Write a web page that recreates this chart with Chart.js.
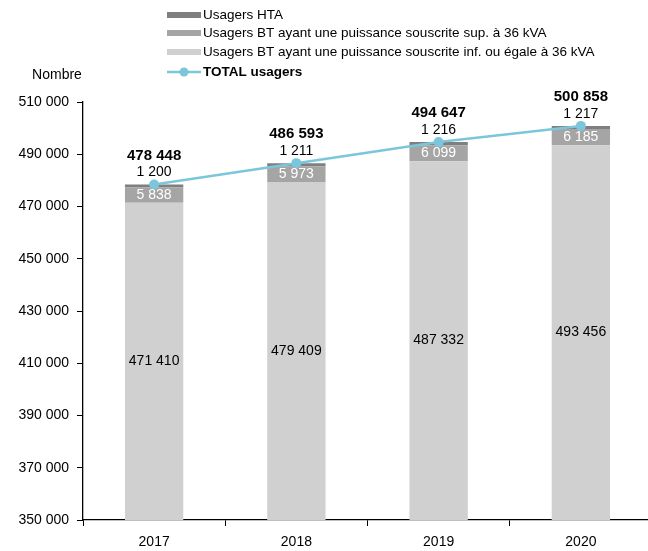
<!DOCTYPE html>
<html>
<head>
<meta charset="utf-8">
<script src="https://cdn.jsdelivr.net/npm/chart.js@4"></script>
<style>
  html, body { margin: 0; padding: 0; background: #fff; overflow: hidden; }
  #wrap { width: 660px; height: 551px; }
</style>
</head>
<body>
<div id="wrap"><canvas id="chart" width="660" height="551"></canvas></div>
<script>
// Data
const years = ["2017", "2018", "2019", "2020"];
const btInf = [471410, 479409, 487332, 493456];
const btSup = [5838, 5973, 6099, 6185];
const hta = [1200, 1211, 1216, 1217];
const totals = [478448, 486593, 494647, 500858];
const yTicks = [350000, 370000, 390000, 410000, 430000, 450000, 470000, 490000, 510000];

const FONT = "'Liberation Sans', Arial, sans-serif";
const fmt = (v) => String(v).replace(/\B(?=(\d{3})+(?!\d))/g, " ");

// Draw value labels, legend and axis title
const extras = {
  id: "extras",
  afterDatasetsDraw(chart) {
    const ctx = chart.ctx;
    const y = chart.scales.y;
    const x = chart.scales.x;
    ctx.save();
    ctx.textAlign = "center";
    ctx.textBaseline = "middle";
    years.forEach((yr, i) => {
      const cx = x.getPixelForValue(i);
      // BT inf label: middle of the visible segment
      ctx.font = "14px " + FONT;
      ctx.fillStyle = "#000";
      ctx.fillText(fmt(btInf[i]), cx, (y.getPixelForValue(btInf[i]) + y.bottom) / 2);
      // BT sup label, white inside
      ctx.fillStyle = "#fff";
      ctx.fillText(fmt(btSup[i]), cx, y.getPixelForValue(btInf[i] + btSup[i] / 2));
      // HTA above bar, total in bold above it
      const top = y.getPixelForValue(totals[i]);
      ctx.fillStyle = "#000";
      ctx.fillText(fmt(hta[i]), cx, top - 12);
      ctx.font = "bold 15px " + FONT;
      ctx.fillText(fmt(totals[i]), cx, top - 29);
    });
    ctx.restore();
  },
  afterDraw(chart) {
    const ctx = chart.ctx;
    ctx.save();
    ctx.textBaseline = "middle";
    ctx.textAlign = "center";
    ctx.font = "14px " + FONT;
    ctx.fillStyle = "#000";
    ctx.fillText("Nombre", 57, 75);

    // legend, one item per row
    const items = [chart.data.datasets[3], chart.data.datasets[2], chart.data.datasets[1], chart.data.datasets[0]];
    const rows = [15, 33, 52, 72];
    ctx.textAlign = "left";
    items.forEach((ds, k) => {
      const ry = rows[k];
      if (ds.type === "line") {
        ctx.strokeStyle = ds.borderColor;
        ctx.lineWidth = 2.5;
        ctx.beginPath();
        ctx.moveTo(167, ry);
        ctx.lineTo(201, ry);
        ctx.stroke();
        ctx.fillStyle = ds.borderColor;
        ctx.beginPath();
        ctx.arc(184, ry, 4.5, 0, Math.PI * 2);
        ctx.fill();
        ctx.font = "bold 13.5px " + FONT;
      } else {
        ctx.fillStyle = ds.backgroundColor;
        ctx.fillRect(167, ry - 3, 34, 6);
        ctx.font = "13.5px " + FONT;
      }
      ctx.fillStyle = "#000";
      ctx.fillText(ds.label, 203, ry);
    });
    ctx.restore();
  }
};

new Chart(document.getElementById("chart").getContext("2d"), {
  data: {
    labels: years,
    datasets: [
      {
        type: "line",
        label: "TOTAL usagers",
        data: totals,
        borderColor: "#7cc6dc",
        backgroundColor: "#7cc6dc",
        borderWidth: 2.5,
        pointRadius: 5,
        pointBackgroundColor: "#7cc6dc",
        pointBorderWidth: 0,
        order: 0,
        stack: "line",
      },
      {
        type: "bar",
        label: "Usagers BT ayant une puissance souscrite inf. ou égale à 36 kVA",
        data: btInf,
        backgroundColor: "#d0d0d0",
        order: 1,
        stack: "s",
      },
      {
        type: "bar",
        label: "Usagers BT ayant une puissance souscrite sup. à 36 kVA",
        data: btSup,
        backgroundColor: "#a5a5a5",
        order: 1,
        stack: "s",
      },
      {
        type: "bar",
        label: "Usagers HTA",
        data: hta,
        backgroundColor: "#7f7f7f",
        order: 1,
        stack: "s",
      },
    ],
  },
  options: {
    responsive: false,
    animation: false,
    layout: { padding: { top: 102, right: 8, left: 0, bottom: 0 } },
    datasets: { bar: { barPercentage: 0.41, categoryPercentage: 1 } },
    plugins: { legend: { display: false }, tooltip: { enabled: false } },
    scales: {
      x: {
        stacked: true,
        grid: { drawOnChartArea: false, offset: true, color: "#000", tickLength: 6 },
        border: { color: "#000", width: 1.3 },
        ticks: { color: "#000", font: { family: FONT, size: 14 }, padding: 8 },
        afterFit(s) { s.height = 31; },
      },
      y: {
        stacked: true,
        min: 350000,
        max: 510000,
        afterBuildTicks(s) { s.ticks = yTicks.map((v) => ({ value: v })); },
        grid: { drawOnChartArea: false, color: "#000", tickLength: 6 },
        border: { color: "#000", width: 1.3 },
        ticks: { color: "#000", font: { family: FONT, size: 14 }, padding: 8, callback: (v) => fmt(v) },
        afterFit(s) { s.width = 83; },
      },
    },
  },
  plugins: [extras],
});
</script>
</body>
</html>
